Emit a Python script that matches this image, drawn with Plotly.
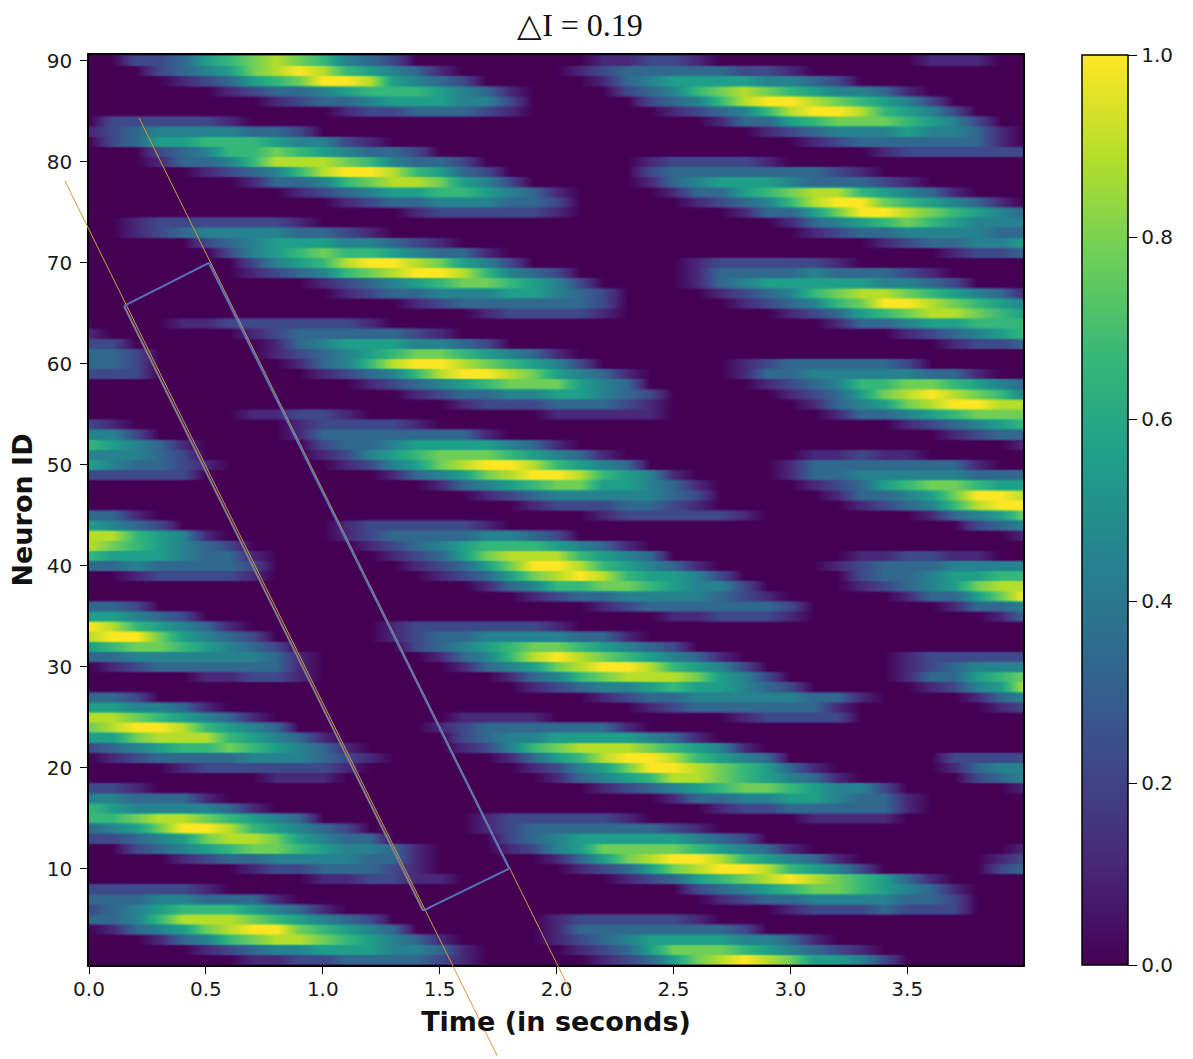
import numpy as np
import plotly.graph_objects as go

# Time samples (seconds) and neuron ids
time_s = [i / 10 for i in range(41)]
neuron_ids = list(range(1, 91))

# Activity: row -> (first column index, one digit per 0.1 s, 0-9 = 0.0-1.0)
activity_rows = {
90: [(2,"223567876432"),(22,"11221"),(36,"111")],
89: [(3,"2345789865431"),(21,"1233333221")],
88: [(4,"1235679985432"),(22,"13455554432")],
87: [(6,"1233456665431"),(23,"2346787654431")],
86: [(8,"12334555442"),(24,"2346899876542")],
85: [(11,"12233321"),(25,"1234689986542")],
84: [(1,"222221"),(27,"133567776542")],
83: [(0,"1234444332"),(29,"12344454431")],
82: [(1,"235566654421"),(31,"123333331")],
81: [(3,"234667654332"),(34,"1222222")],
80: [(3,"13346888764332"),(24,"122221")],
79: [(5,"1234689986532"),(24,"2333333321")],
78: [(7,"133467887542"),(24,"134555433321")],
77: [(9,"123455665431"),(25,"1335678865431")],
76: [(11,"1233444332"),(26,"12346899765431")],
75: [(14,"1222221"),(28,"1335799876543")],
74: [(2,"12222221"),(30,"13456765444")],
73: [(2,"12344443321"),(31,"1233444433")],
72: [(5,"23455544321"),(34,"1233445")],
71: [(6,"245676654331"),(37,"1223")],
70: [(7,"245689987542"),(26,"1222221")],
69: [(7,"12346789986432"),(26,"13333433321")],
68: [(10,"123456776542"),(26,"134555554432")],
67: [(11,"123344455432"),(27,"12346788765431")],
66: [(14,"123333332"),(28,"1234679987654")],
65: [(17,"122221"),(30,"12356788765")],
64: [(4,"112222221"),(32,"133455666")],
63: [(0,"1"),(7,"123333321"),(35,"123456")],
62: [(0,"22"),(8,"1345554432"),(37,"1223")],
61: [(0,"332"),(8,"1234567765431")],
60: [(0,"332"),(9,"1346899876542"),(28,"12333332")],
59: [(0,"222"),(10,"12346899875431"),(28,"13344444331")],
58: [(12,"123456777543"),(29,"123466776543")],
57: [(14,"12334455432"),(30,"12357898764")],
56: [(16,"122233321"),(31,"1345789988")],
55: [(7,"11221"),(20,"11111"),(32,"133456777")],
54: [(0,"21"),(9,"122221"),(35,"123456")],
53: [(0,"442"),(9,"133333331"),(37,"1233")],
52: [(0,"65431"),(10,"23345555431"),(40,"1")],
51: [(0,"44432"),(10,"1245677765431"),(31,"11211")],
50: [(0,"543321"),(11,"1245789986543"),(30,"133333331")],
49: [(0,"22222"),(13,"1345789986541"),(30,"13344444333")],
48: [(15,"134567755431"),(31,"1235677655")],
47: [(17,"1234444432"),(32,"133457998")],
46: [(19,"12223321"),(33,"12346899")],
45: [(0,"331"),(22,"1222221"),(36,"13457")],
44: [(0,"5432"),(11,"1222221"),(38,"234")],
43: [(0,"886541"),(11,"1233334432"),(40,"1")],
42: [(0,"8765432"),(12,"123456665431")],
41: [(0,"65554331"),(13,"123578886543"),(33,"112211")],
40: [(0,"33433332"),(14,"1235799865431"),(32,"123334444")],
39: [(2,"122221"),(15,"1235789865542"),(33,"23345566")],
38: [(17,"134667765442"),(33,"12345788")],
37: [(19,"12334444321"),(35,"133579")],
36: [(0,"332"),(22,"123333332"),(37,"1334")],
35: [(0,"55432"),(25,"112221"),(39,"13")],
34: [(0,"9865431"),(13,"12222221")],
33: [(0,"89975432"),(13,"12334444331")],
32: [(0,"567765432"),(14,"234567765432")],
31: [(0,"3344444431"),(15,"1346898765431"),(35,"122222")],
30: [(1,"123333331"),(16,"1345789986542"),(35,"123444")],
29: [(5,"11221"),(18,"134678887542"),(35,"133567")],
28: [(19,"123445655432"),(36,"12458")],
27: [(0,"332"),(22,"123344444331"),(38,"134")],
26: [(0,"554431"),(24,"123333331"),(39,"12")],
25: [(0,"88765431"),(16,"1111"),(28,"12222")],
24: [(0,"789986543"),(15,"123333331")],
23: [(0,"55788865431"),(16,"23445555431")],
22: [(0,"234566765431"),(16,"1246788876541")],
21: [(1,"123333444321"),(18,"135689986543"),(37,"2222")],
20: [(4,"12222221"),(19,"1245799876531"),(37,"1344")],
19: [(8,"111"),(20,"1345688765431"),(38,"234")],
18: [(0,"221"),(22,"1234567765442"),(40,"1")],
17: [(0,"443331"),(25,"13344554331")],
16: [(0,"65444431"),(27,"122333331")],
15: [(0,"6678876543"),(17,"1222221"),(31,"1111")],
14: [(0,"345799865432"),(17,"1233333321")],
13: [(0,"2234578875433"),(18,"23455555432")],
12: [(2,"2345677654431"),(18,"1245777765431"),(40,"1")],
11: [(4,"12334444331"),(20,"1357899865431"),(39,"12")],
10: [(7,"12233321"),(21,"1235789986542"),(39,"23")],
9: [(10,"112211"),(23,"12356789876531")],
8: [(0,"222221"),(26,"234567765431")],
7: [(0,"333443331"),(27,"12334444332")],
6: [(0,"23456665431"),(30,"12223222")],
5: [(0,"3346888765432"),(20,"1222221")],
4: [(1,"1345789976543"),(20,"133333332")],
3: [(3,"1346788765431"),(20,"123455554431")],
2: [(5,"123445554431"),(21,"1235777654321")],
1: [(7,"1122333321"),(22,"1235789875542")],
}

# Hand-drawn overlay, in data units (seconds, neuron id)
line_a_t, line_a_y = [-0.103, 1.746], [78.09, -8.53]
line_b_t, line_b_y = [0.214, 2.058], [84.33, -2.09]
box_t = [0.150, 0.513, 1.797, 1.429, 0.150]
box_y = [65.7, 69.96, 10.0, 5.84, 65.7]
box_colors = ["#5a74b8", "#5a74b8", "#5a74b8", "#7f7f88"]

x_ticks = [0.0, 0.5, 1.0, 1.5, 2.0, 2.5, 3.0, 3.5]
y_ticks = [10, 20, 30, 40, 50, 60, 70, 80, 90]
cbar_ticks = [0.0, 0.2, 0.4, 0.6, 0.8, 1.0]

X_RANGE = [0, 3.995]
Y_RANGE = [0.45, 90.55]

z = np.zeros((len(neuron_ids), len(time_s)))
for row, runs in activity_rows.items():
    for start, digits in runs:
        for k, d in enumerate(digits):
            z[row - 1, start + k] = int(d) / 9

# Every row is held flat over its height so that it stays a band, smooth only along time
sub_rows = [-0.375, -0.125, 0.125, 0.375]
y_sub = [n + s for n in neuron_ids for s in sub_rows]
z_sub = np.repeat(z, len(sub_rows), axis=0)

tick_font = dict(family="DejaVu Sans", size=20, color="#1a1a1a")

fig = go.Figure(go.Heatmap(
    x=time_s, y=y_sub, z=z_sub, zmin=0, zmax=1, zsmooth="best",
    colorscale="Viridis",
    colorbar=dict(
        xref="container", x=1082 / 1193, xanchor="left", xpad=0, ypad=0,
        yref="paper", y=0, yanchor="bottom", len=1, lenmode="fraction",
        thickness=46, thicknessmode="pixels",
        outlinecolor="black", outlinewidth=1.5,
        tickmode="array", tickvals=cbar_ticks,
        ticktext=[f"{v:.1f}" for v in cbar_ticks],
        ticks="outside", ticklen=9, tickcolor="black",
        tickfont=tick_font,
    ),
))


def px(t):
    return (t - X_RANGE[0]) / (X_RANGE[1] - X_RANGE[0])


def py(y):
    return (y - Y_RANGE[0]) / (Y_RANGE[1] - Y_RANGE[0])


for ts, ys in ((line_a_t, line_a_y), (line_b_t, line_b_y)):
    fig.add_shape(type="line", xref="paper", yref="paper",
                  x0=px(ts[0]), y0=py(ys[0]), x1=px(ts[1]), y1=py(ys[1]),
                  line=dict(color="#d39a3e", width=1))
for i in range(len(box_t) - 1):
    fig.add_shape(type="line", xref="paper", yref="paper",
                  x0=px(box_t[i]), y0=py(box_y[i]), x1=px(box_t[i + 1]), y1=py(box_y[i + 1]),
                  line=dict(color=box_colors[i], width=2))

fig.update_layout(
    width=1193, height=1059, autosize=False,
    margin=dict(l=89, r=170, t=55, b=94, pad=0),
    paper_bgcolor="white", plot_bgcolor="#440154",
    title=dict(text="△I = 0.19", x=580 / 1193, xanchor="center", y=1 - 25 / 1059, yanchor="middle",
               font=dict(family="Liberation Serif", size=32, color="#111111")),
    xaxis=dict(range=X_RANGE, tickmode="array", tickvals=x_ticks,
               ticktext=[f"{v:.1f}" for v in x_ticks],
               ticks="outside", ticklen=7, tickcolor="black", ticklabelstandoff=-2,
               showline=True, mirror=True, linecolor="black", linewidth=1.5, showgrid=False, zeroline=False,
               tickfont=tick_font,
               title=dict(text="<b>Time (in seconds)</b>", standoff=12,
                          font=dict(family="DejaVu Sans", size=27, color="#111111"))),
    yaxis=dict(range=Y_RANGE, tickmode="array", tickvals=y_ticks,
               ticks="outside", ticklen=7, tickcolor="black", ticklabelstandoff=4,
               showline=True, mirror=True, linecolor="black", linewidth=1.5, showgrid=False, zeroline=False,
               tickfont=tick_font,
               title=dict(text="<b>Neuron ID</b>", standoff=6,
                          font=dict(family="DejaVu Sans", size=27, color="#111111"))),
)

fig.write_html("out.html", config={"displayModeBar": False},
               post_script="document.body.style.margin='0';")
